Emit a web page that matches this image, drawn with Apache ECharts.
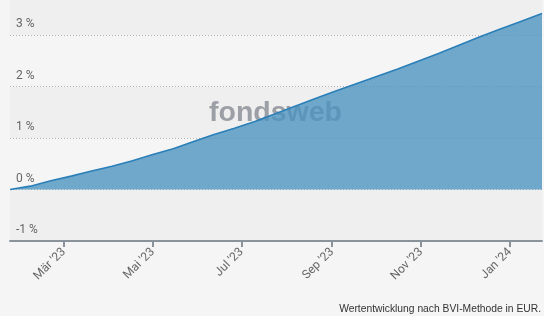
<!DOCTYPE html>
<html><head><meta charset="utf-8">
<script src="https://cdn.jsdelivr.net/npm/echarts@6/dist/echarts.min.js"></script>
<style>html,body{margin:0;padding:0;background:#f5f5f5}#c{width:544px;height:316px}</style>
</head><body><div id="c"></div>
<script>
var dates = ['2023-01-23','2023-02-06','2023-02-20','2023-03-06','2023-03-20','2023-04-03','2023-04-17','2023-05-01','2023-05-15','2023-05-29','2023-06-12','2023-06-26','2023-07-10','2023-07-24','2023-08-07','2023-08-21','2023-09-04','2023-09-18','2023-10-02','2023-10-16','2023-10-30','2023-11-13','2023-11-27','2023-12-11','2023-12-25','2024-01-08','2024-01-23'];
var values = [0,0.065,0.17,0.26,0.36,0.45,0.56,0.68,0.79,0.93,1.07,1.19,1.32,1.47,1.62,1.77,1.92,2.06,2.20,2.34,2.49,2.64,2.80,2.96,3.11,3.26,3.42];
var tickDates = ['2023-03-01','2023-05-01','2023-07-01','2023-09-01','2023-11-01','2024-01-01'];
var tickLabels = ["Mär '23","Mai '23","Jul '23","Sep '23","Nov '23","Jan '24"];
var yTicks = [-1,0,1,2,3];
var footer = 'Wertentwicklung nach BVI-Methode in EUR.';
var watermark = 'fondsweb';

function ts(d){ var p=d.split('-'); return Date.UTC(+p[0], +p[1]-1, +p[2]); }
var tickTs = tickDates.map(ts);
var data = dates.map(function(d,i){ return [ts(d), values[i]]; });

var chart = echarts.init(document.getElementById('c'), null, {renderer:'canvas'});
chart.setOption({
  backgroundColor:'#f5f5f5',
  animation:false,
  grid:{left:10, right:2, top:0, bottom:75},
  title:[
    {text:watermark, left:205, top:95, z:1, padding:4,
     textStyle:{color:'#9ca0a6', fontWeight:'bold', fontSize:28.5, fontFamily:'"Liberation Sans", Arial'}},
    {text:footer, right:0, top:301, z:10, padding:3,
     textStyle:{color:'#333', fontWeight:'normal', fontSize:10.3, fontFamily:'"Liberation Sans", Arial'}}
  ],
  xAxis:{
    type:'value',
    min: ts(dates[0]), max: ts(dates[dates.length-1]),
    axisLine:{show:true, onZero:false, lineStyle:{color:'#8a929c', width:2}},
    axisTick:{show:true, customValues: tickTs, length:6, lineStyle:{color:'#8a929c', width:2}},
    axisLabel:{customValues: tickTs, rotate:45, margin:9, color:'#666', fontFamily:'Roboto', fontSize:12,
      formatter:function(v){ var i = tickTs.indexOf(v); return i>=0 ? tickLabels[i] : ''; }},
    splitLine:{show:false}
  },
  yAxis:{
    type:'value', min:-1, max:3.68, interval:1,
    axisLine:{show:false}, axisTick:{show:false},
    axisLabel:{inside:true, margin:6, verticalAlign:'bottom', padding:[0,0,5,0], color:'#666', fontFamily:'Roboto', fontSize:12,
      formatter:function(v){ return yTicks.indexOf(v)>=0 ? v + ' %' : ''; }},
    splitLine:{show:true, showMaxLine:false, showMinLine:false, lineStyle:{color:'#b4b4b4', type:[1,2], width:1}},
    splitArea:{show:true, areaStyle:{color:['#efefef','#f5f5f5']}}
  },
  series:[{
    type:'line', data:data, showSymbol:false, z:5,
    lineStyle:{color:'#2a7fb8', width:1.6},
    areaStyle:{color:'rgb(73,146,191)', opacity:0.78, origin:0}
  }]
});
</script></body></html>
